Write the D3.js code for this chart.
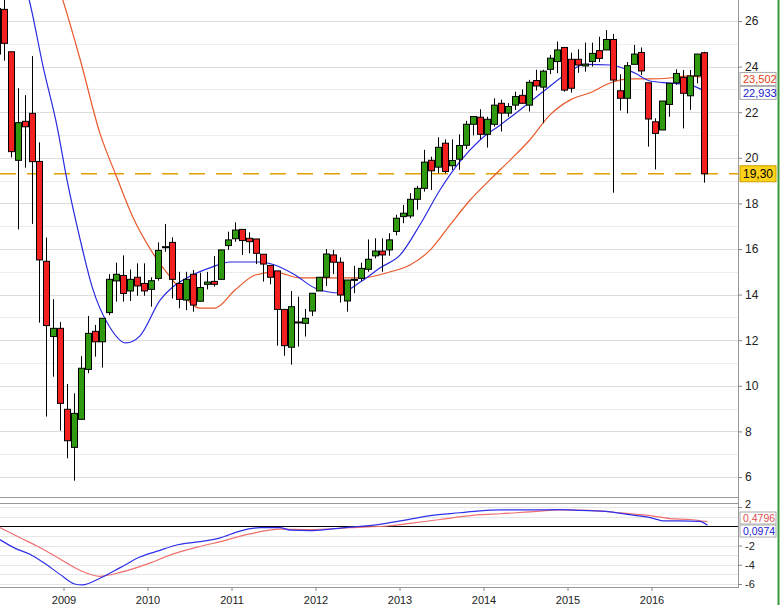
<!DOCTYPE html><html><head><meta charset="utf-8">
<script src="https://cdn.jsdelivr.net/npm/d3@7"></script>
<style>body{margin:0;background:#fff}svg{font-family:"Liberation Sans",Arial,sans-serif}</style></head><body>
<svg id="c" width="780" height="605"></svg>
<script>
// Monthly candles, first = Mar 2008
const opens =[24.55,26.51,24.65,19.89,21.60,21.95,19.84,15.46,12.16,12.52,8.97,7.30,8.53,10.72,12.39,11.93,13.21,14.60,14.84,14.16,14.76,14.49,14.23,14.71,16.10,16.29,14.49,13.76,14.89,13.71,14.45,14.58,14.67,16.15,16.45,16.86,16.47,16.44,15.77,15.28,15.04,13.35,11.69,12.80,12.74,13.28,14.16,14.76,15.74,15.42,13.72,14.63,14.71,15.11,15.70,15.91,15.96,16.77,17.42,17.45,18.18,18.66,19.89,19.59,20.64,19.65,19.94,20.55,21.47,21.78,21.03,21.47,22.39,21.96,22.31,22.74,22.31,23.39,23.10,23.88,24.22,24.84,24.32,24.32,24.03,24.22,24.70,24.73,25.19,22.94,22.61,24.10,24.62,23.29,21.58,21.22,22.34,23.29,23.53,22.72,23.59,24.61];
const closes=[26.55,25.02,20.27,21.54,21.36,19.83,15.52,12.64,12.52,9.23,7.59,8.79,10.77,12.30,11.93,12.96,14.67,14.89,14.05,14.67,14.38,14.16,14.61,15.94,16.10,14.67,13.79,14.67,13.54,14.31,14.55,14.45,15.96,16.40,16.83,16.37,16.32,15.81,15.34,14.76,13.35,11.76,13.47,12.80,12.96,14.06,14.76,15.78,15.42,13.98,14.64,14.67,15.15,15.55,15.91,15.74,16.40,17.35,17.57,18.18,18.66,19.81,19.43,20.46,19.40,19.88,20.54,21.47,21.81,21.03,21.69,22.31,21.96,22.25,22.69,22.39,23.31,23.15,23.80,24.37,24.73,22.97,23.05,24.07,24.11,24.58,24.36,25.19,23.41,22.61,24.04,24.55,23.81,21.70,21.07,22.49,23.27,23.70,22.83,23.59,24.55,19.30];
const highs =[27.0,27.0,24.65,23.05,22.75,24.46,20.68,16.50,13.80,12.80,10.08,9.67,11.30,13.06,12.67,12.96,14.90,15.40,15.72,15.10,15.37,15.37,14.76,16.29,17.10,16.51,15.00,15.00,15.08,14.96,15.00,15.69,15.96,16.76,17.17,16.86,16.73,16.44,15.77,15.28,15.04,13.35,14.16,13.91,13.37,14.06,14.76,16.00,15.96,15.63,14.64,15.26,15.40,16.42,16.47,16.47,16.69,17.50,17.93,18.45,18.77,20.35,20.05,20.90,20.81,20.81,21.03,21.62,21.81,22.13,21.80,22.61,22.55,22.40,22.90,23.00,23.42,23.86,23.86,24.51,25.10,24.84,24.61,24.76,25.05,25.05,25.31,25.60,25.43,23.67,24.20,24.95,24.84,23.29,21.73,22.49,23.27,23.88,23.85,23.85,24.55,24.65];
const lows  =[24.30,24.26,20.02,16.86,19.57,17.10,12.77,8.65,10.40,8.03,6.82,5.84,8.50,10.55,11.28,10.80,13.10,13.69,13.69,13.72,13.95,13.95,13.47,14.61,15.88,13.83,13.40,13.32,13.25,13.71,14.23,14.35,14.67,15.96,16.32,15.74,15.81,15.34,14.57,14.45,11.76,11.32,10.93,11.72,12.16,13.06,14.16,14.38,14.90,13.65,13.25,14.06,14.60,15.00,15.59,15.00,15.70,16.60,17.13,17.35,17.72,18.52,18.59,19.32,19.32,19.47,19.47,20.38,20.98,20.81,20.45,21.37,21.15,21.80,22.10,22.39,22.03,22.95,21.52,23.67,23.71,22.90,22.86,23.73,23.78,24.00,24.20,24.73,18.47,22.07,21.95,24.10,23.63,20.49,19.49,21.22,21.80,23.20,21.29,22.10,23.27,18.91];
// moving averages: [month index, value]
const maFast=[[3,28.5],[4.6,26.92],[6.6,23.98],[8.6,21.35],[10,19.03],[11.9,16.39],[13.6,14.33],[16.1,12.58],[18.4,11.88],[20.4,12.18],[23.3,13.76],[25.1,14.33],[27.1,14.73],[30.4,15.17],[33.3,15.43],[37.6,15.43],[39.7,15.30],[42.6,14.86],[45.4,14.29],[49,14.07],[51.9,14.55],[54.7,15.17],[57.6,15.74],[60.4,17.05],[63.3,18.60],[66.1,19.82],[69,20.78],[71.9,21.44],[74.7,22.10],[78.3,22.97],[81.1,23.63],[84,24.10],[87.6,24.07],[91.1,23.72],[93.3,23.37],[96.1,23.28],[99,23.20],[101,22.933]];
const maSlow=[[8,28.2],[9.4,26.92],[11.9,24.29],[14.7,21.08],[17.1,19.16],[19.4,17.40],[22.3,15.80],[25.1,14.64],[29,13.41],[31.1,13.41],[34,14.20],[36.9,14.86],[39.7,14.99],[43.3,14.73],[47.6,14.73],[51.9,14.73],[56.1,14.99],[59,15.30],[61.9,15.96],[64.7,17.05],[67.6,18.15],[70.4,19.03],[73.3,19.90],[76.1,20.78],[79,21.88],[81.9,22.54],[84.7,22.85],[87.6,23.28],[90.4,23.46],[93.3,23.46],[96.1,23.50],[99,23.59],[101,23.502]];
const macdLine=[[0.4,-1.39],[2.6,-2.3],[4.7,-2.9],[6.9,-3.9],[9,-5.0],[11.1,-6.0],[12.2,-6.1],[14.7,-5.4],[17.6,-4.3],[20.4,-3.2],[23.3,-2.5],[25.4,-2.0],[29,-1.6],[31.9,-1.2],[34.7,-0.5],[37.6,-0.15],[40.4,-0.15],[41.9,-0.4],[44.7,-0.45],[47.6,-0.3],[50.4,-0.1],[54.7,0.2],[57.6,0.55],[61.9,1.1],[66.1,1.4],[69,1.6],[71.9,1.7],[76.1,1.7],[80.4,1.72],[83.3,1.65],[87.6,1.5],[90.4,1.2],[93.3,0.9],[95.4,0.55],[97.6,0.55],[100.4,0.5],[101.5,0.0974]];
const signalLine=[[0.4,-0.14],[3.3,-1.2],[6.1,-2.2],[9,-3.4],[11.9,-4.6],[14.7,-5.2],[17.6,-4.8],[21.9,-3.8],[24.7,-3.0],[29,-2.1],[31.9,-1.6],[36.1,-0.8],[40.4,-0.3],[44.7,-0.35],[50.4,-0.15],[56.1,0.05],[59,0.3],[63.3,0.7],[69,1.2],[71.9,1.3],[76.1,1.5],[80.4,1.7],[84.7,1.65],[89,1.4],[93.3,1.1],[96.1,0.8],[99,0.7],[101.5,0.4796]];
const years=[2009,2010,2011,2012,2013,2014,2015,2016];
const priceTicks=[6,8,10,12,14,16,18,20,22,24,26];
const macdTicks=[-6,-4,-2,2];
const support=19.30;

const svg=d3.select("#c");
const x=d3.scaleLinear().domain([0,101]).range([-3,704]);
const y=d3.scaleLinear().domain([6,26]).range([477,21]);
const y2=d3.scaleLinear().domain([-6,2]).range([584,507]);
const AX=738;
const g=svg.append("g");
d3.range(5,28).forEach(v=>{const yy=Math.round(y(v))+0.5; if(yy>0&&yy<496) g.append("line").attr("x1",0).attr("x2",AX).attr("y1",yy).attr("y2",yy).attr("stroke",v%2?"#ececec":"#dcdcdc");});
[-6,-5,-4,-3,-2,-1,1,2].forEach(v=>{const yy=Math.round(y2(v))+0.5;g.append("line").attr("x1",0).attr("x2",AX).attr("y1",yy).attr("y2",yy).attr("stroke","#e6e6e6");});
svg.append("line").attr("x1",0).attr("x2",AX).attr("y1",497.5).attr("y2",497.5).attr("stroke","#999");
svg.append("line").attr("x1",0).attr("x2",AX).attr("y1",503.5).attr("y2",503.5).attr("stroke","#999");
svg.append("line").attr("x1",0).attr("x2",AX).attr("y1",587.5).attr("y2",587.5).attr("stroke","#999");
svg.append("line").attr("x1",AX+0.5).attr("x2",AX+0.5).attr("y1",0).attr("y2",588).attr("stroke","#999");
svg.append("line").attr("x1",778.5).attr("x2",778.5).attr("y1",0).attr("y2",605).attr("stroke","#3a9a3a").attr("stroke-width",2);
const ya=svg.append("g").attr("transform",`translate(${AX},0)`).call(d3.axisRight(y).tickValues(priceTicks).tickSize(4).tickFormat(d3.format("d")));
ya.select(".domain").remove();ya.selectAll("text").attr("font-size",12).attr("fill","#222");ya.selectAll("line").attr("stroke","#888");
const ya2=svg.append("g").attr("transform",`translate(${AX},0)`).call(d3.axisRight(y2).tickValues(macdTicks).tickSize(4).tickFormat(d=>d<0?"-"+(-d):d));
ya2.select(".domain").remove();ya2.selectAll("text").attr("font-size",11).attr("fill","#222").attr("dy",d=>d===2?"0.05em":"0.32em");ya2.selectAll("line").attr("stroke","#888");
const xa=svg.append("g").attr("transform","translate(0,587)").call(d3.axisBottom(x).tickValues(years.map(yr=>(yr-2008)*12-2.5)).tickSize(4).tickFormat((d,i)=>years[i]));
xa.select(".domain").remove();xa.selectAll("text").attr("font-size",11).attr("fill","#222").attr("dy","0.9em");xa.selectAll("line").attr("stroke","#888");
svg.append("clipPath").attr("id","cp").append("rect").attr("x",0).attr("y",0).attr("width",AX).attr("height",497);
svg.append("clipPath").attr("id","cp2").append("rect").attr("x",0).attr("y",504).attr("width",AX).attr("height",83);
const main=svg.append("g").attr("clip-path","url(#cp)");
main.append("line").attr("x1",0).attr("x2",AX).attr("y1",y(support)).attr("y2",y(support)).attr("stroke","#e0a000").attr("stroke-width",1.5).attr("stroke-dasharray","16,11");
const ln=(yy)=>d3.line().x(d=>x(d[0])).y(d=>yy(d[1])).curve(d3.curveMonotoneX);
main.append("path").datum(maSlow).attr("d",ln(y)).attr("fill","none").attr("stroke","#e8582a").attr("stroke-width",1.2);
main.append("path").datum(maFast).attr("d",ln(y)).attr("fill","none").attr("stroke","#2a2ae0").attr("stroke-width",1.2);
const idx=d3.range(opens.length);
main.selectAll(".w").data(idx).join("line").attr("x1",i=>Math.round(x(i))+0.5).attr("x2",i=>Math.round(x(i))+0.5).attr("y1",i=>y(highs[i])).attr("y2",i=>y(lows[i])).attr("stroke","#000");
main.selectAll(".b").data(idx).join("rect").attr("x",i=>Math.round(x(i))-2.5).attr("width",6)
 .attr("y",i=>y(Math.max(opens[i],closes[i]))).attr("height",i=>Math.max(1,Math.abs(y(opens[i])-y(closes[i]))))
 .attr("fill",i=>closes[i]>=opens[i]?"#2f9a10":"#f22020").attr("stroke","#000").attr("stroke-width",1);
const sub=svg.append("g").attr("clip-path","url(#cp2)");
sub.append("line").attr("x1",0).attr("x2",AX).attr("y1",Math.round(y2(0))+0.5).attr("y2",Math.round(y2(0))+0.5).attr("stroke","#000");
sub.append("path").datum(signalLine).attr("d",ln(y2)).attr("fill","none").attr("stroke","#f07070").attr("stroke-width",1.2);
sub.append("path").datum(macdLine).attr("d",ln(y2)).attr("fill","none").attr("stroke","#3030e8").attr("stroke-width",1.2);
function tag(yy,txt,col,bg,border,fs,h){
 const gg=svg.append("g");
 gg.append("rect").attr("x",AX+2).attr("y",yy-h/2).attr("width",36).attr("height",h).attr("fill",bg).attr("stroke",border);
 gg.append("text").attr("x",AX+5).attr("y",yy+4).attr("font-size",fs).attr("fill",col).text(txt);
}
tag(y(23.502)+1,"23,502","#e04010","#fff","#aaa",11,13);
tag(y(22.933)+2,"22,933","#2020d0","#fff","#aaa",11,13);
tag(y(support),"19,30","#000","#ffd21a","#c9a000",12,16);
tag(518,"0,4796","#e05050","#fff","#aaa",10.5,12);
tag(531,"0,0974","#2020d0","#fff","#aaa",10.5,12);
</script></body></html>
